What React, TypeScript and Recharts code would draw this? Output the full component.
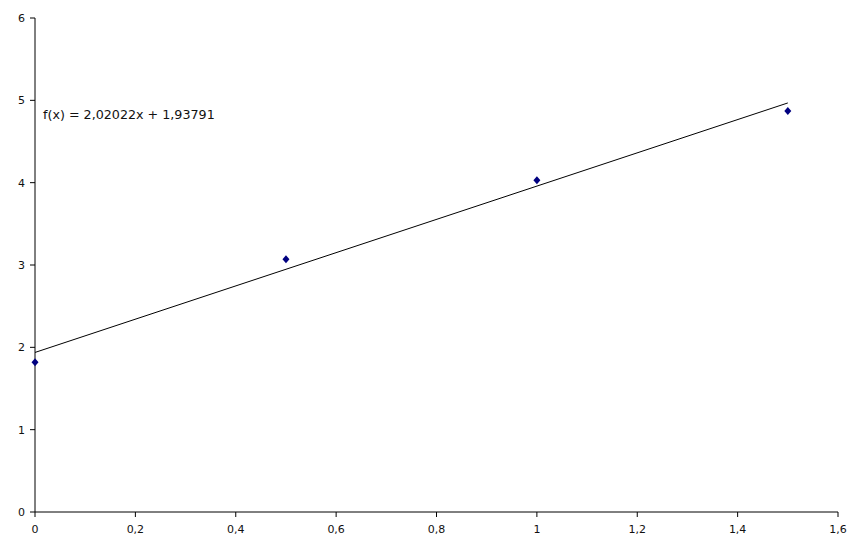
import { ComposedChart, Scatter, XAxis, YAxis } from 'recharts'

const xValues = [0, 0.5, 1.0, 1.5]
const yValues = [1.82, 3.07, 4.03, 4.87]
const trendX = [0, 1.5]
const trendY = [1.93791, 4.96824]
const xTicks = [0, 0.2, 0.4, 0.6, 0.8, 1.0, 1.2, 1.4, 1.6]
const yTicks = [0, 1, 2, 3, 4, 5, 6]
const equation = 'f(x) = 2,02022x + 1,93791'

const points = xValues.map((x, i) => ({ x, y: yValues[i] }))
const trend = trendX.map((x, i) => ({ x, y: trendY[i] }))

const fmt = (v: number) => String(v).replace('.', ',')
const tickStyle = { fontSize: 11, fill: '#111', fontFamily: 'DejaVu Sans' }

const Diamond = (props: any) => {
  const { cx, cy } = props
  if (cx == null || cy == null) return null
  return <polygon points={`${cx},${cy - 4} ${cx + 3.5},${cy} ${cx},${cy + 4} ${cx - 3.5},${cy}`} fill="#000080" />
}

export default function App() {
  return (
    <div style={{ position: 'absolute', left: 0, top: 0, width: 866, height: 548, background: '#fff' }}>
      <ComposedChart width={866} height={548} margin={{ top: 18, right: 28, bottom: 0, left: 0 }}>
        <XAxis
          type="number"
          dataKey="x"
          domain={[0, 1.6]}
          ticks={xTicks}
          tickFormatter={fmt}
          height={36}
          tick={tickStyle}
          tickSize={5}
          tickMargin={8}
          stroke="#000"
        />
        <YAxis
          type="number"
          dataKey="y"
          domain={[0, 6]}
          ticks={yTicks}
          tickFormatter={fmt}
          width={35}
          tick={tickStyle}
          tickSize={5}
          tickMargin={5}
          stroke="#000"
        />
        <Scatter data={trend} line={{ stroke: '#000', strokeWidth: 1 }} shape={() => null} isAnimationActive={false} />
        <Scatter data={points} shape={Diamond} isAnimationActive={false} />
      </ComposedChart>
      <div style={{ position: 'absolute', left: 43, top: 107, fontFamily: 'DejaVu Sans', fontSize: 12.7, color: '#111', whiteSpace: 'nowrap' }}>
        {equation}
      </div>
    </div>
  )
}
